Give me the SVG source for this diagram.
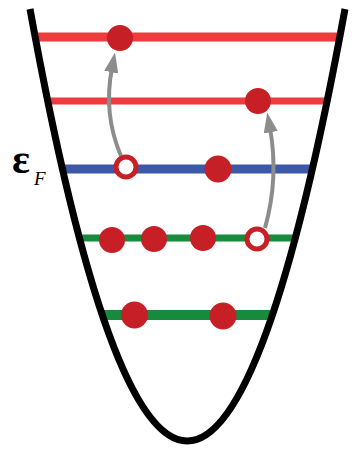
<svg xmlns="http://www.w3.org/2000/svg" width="353" height="450" viewBox="0 0 353 450">
<defs>
<style>
.lvl{fill:none;stroke-linecap:butt}
.red{stroke:#ee3b3d}
.blue{stroke:#3c59a8}
.green{stroke:#178a3c}
.e{fill:#c61f26}
.h{fill:#fff;stroke:#c61f26;stroke-width:5}
.arr{fill:none;stroke:#8c8c8c;stroke-width:4}
</style>
<marker id="ah" viewBox="0 0 14 10" refX="3" refY="5" markerWidth="5" markerHeight="3.6" orient="auto" markerUnits="strokeWidth">
<path d="M0,0 L14,5 L0,10 z" fill="#8c8c8c"/>
</marker>
</defs>
<g id="levels">
<line class="lvl red" x1="34" y1="37" x2="340" y2="37" stroke-width="9"/>
<line class="lvl red" x1="47" y1="101" x2="327" y2="101" stroke-width="7"/>
<line class="lvl blue" x1="62" y1="169" x2="312" y2="169" stroke-width="9"/>
<line class="lvl green" x1="79" y1="238" x2="295" y2="238" stroke-width="7"/>
<line class="lvl green" x1="102" y1="315" x2="272" y2="315" stroke-width="10"/>
</g>
<g id="well">
<path d="M30,9 Q187,873 345,9" fill="none" stroke="#000" stroke-width="7"/>
</g>
<g id="connectors">
<path class="arr" d="M121,156 Q103,114 112,68" marker-end="url(#ah)"/>
<path class="arr" d="M265,228 Q279,178 270,128" marker-end="url(#ah)"/>
</g>
<g id="electrons">
<circle class="e" cx="120" cy="38" r="13"/>
<circle class="e" cx="258" cy="101" r="13"/>
<circle class="h" cx="126" cy="167" r="10"/>
<circle class="e" cx="218" cy="169" r="13.5"/>
<circle class="e" cx="112" cy="240" r="13"/>
<circle class="e" cx="154" cy="239" r="13"/>
<circle class="e" cx="203" cy="238" r="13"/>
<circle class="h" cx="257" cy="239" r="10"/>
<circle class="e" cx="134.5" cy="315" r="13.5"/>
<circle class="e" cx="223" cy="316" r="13.5"/>
</g>
<g id="label">
<text x="12" y="173" font-family="Liberation Serif, serif" font-size="42" font-weight="bold">ε</text>
<text x="34" y="185" font-family="Liberation Serif, serif" font-size="19" font-style="italic">F</text>
</g>
</svg>
